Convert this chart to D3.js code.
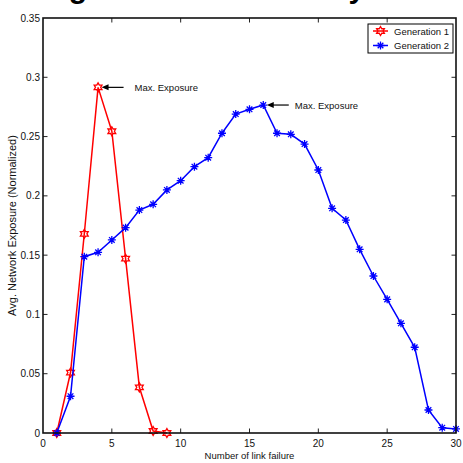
<!DOCTYPE html>
<html>
<head>
<meta charset="utf-8">
<script src="https://cdn.jsdelivr.net/npm/d3@7/dist/d3.min.js"></script>
<style>
  body { margin: 0; background: #fff; }
  svg { display: block; }
  text { font-family: 'Liberation Sans', Arial, Helvetica, sans-serif; }
</style>
</head>
<body>
<div id="chart"></div>
<script>
const W = 463
const H = 463

const gen1X = [1, 2, 3, 4, 5, 6, 7, 8, 9]
const gen1Y = [0, 0.051, 0.168, 0.2915, 0.2545, 0.147, 0.0385, 0.0017, 0]

const gen2X = [1, 2, 3, 4, 5, 6, 7, 8, 9, 10, 11, 12, 13, 14, 15, 16, 17, 18, 19, 20, 21, 22, 23, 24, 25, 26, 27, 28, 29, 30]
const gen2Y = [0, 0.031, 0.1487, 0.1524, 0.1628, 0.1732, 0.188, 0.1929, 0.205, 0.2128, 0.2246, 0.2322, 0.2528, 0.269, 0.273, 0.2766,
  0.2528, 0.2519, 0.2437, 0.2218, 0.1895, 0.1796, 0.1549, 0.1324, 0.1127, 0.0925, 0.0723, 0.0194, 0.0045, 0.0034]

const xTicks = [0, 5, 10, 15, 20, 25, 30]
const yTicks = [0, 0.05, 0.1, 0.15, 0.2, 0.25, 0.3, 0.35]
const seriesNames = ['Generation 1', 'Generation 2']
const annotations = [
  { series: 0, x: 4, y: 0.2915, label: 'Max. Exposure' },
  { series: 1, x: 16, y: 0.2766, label: 'Max. Exposure' },
]

const margin = { left: 43, right: 7, top: 18, bottom: 30 }

const x = d3.scaleLinear().domain([0, 30]).range([margin.left, W - margin.right])
const y = d3.scaleLinear().domain([0, 0.35]).range([H - margin.bottom, margin.top])

const svg = d3.select('#chart').append('svg').attr('width', W).attr('height', H)

svg.append('rect').attr('width', W).attr('height', H).attr('fill', '#ffffff')

// title sits above the picture, only its descenders show
svg
  .append('text')
  .attr('x', 24)
  .attr('y', -2.5)
  .attr('font-size', 30)
  .attr('font-weight', 'bold')
  .attr('letter-spacing', -0.6)
  .attr('fill', '#000')
  .text('Single Link Failure Analysis')

// ticks (inside, on all four sides)
const TICK = 4.5
const tickG = svg.append('g').attr('stroke', '#222').attr('stroke-width', 1)
xTicks.slice(1, -1).forEach((t) => {
  tickG.append('line').attr('x1', x(t)).attr('x2', x(t)).attr('y1', y(0)).attr('y2', y(0) - TICK)
  tickG.append('line').attr('x1', x(t)).attr('x2', x(t)).attr('y1', y(0.35)).attr('y2', y(0.35) + TICK)
})
yTicks.slice(1, -1).forEach((t) => {
  tickG.append('line').attr('x1', x(0)).attr('x2', x(0) + TICK).attr('y1', y(t)).attr('y2', y(t))
  tickG.append('line').attr('x1', x(30)).attr('x2', x(30) - TICK).attr('y1', y(t)).attr('y2', y(t))
})

// tick labels
svg
  .append('g')
  .selectAll('text')
  .data(xTicks)
  .join('text')
  .attr('x', (d) => x(d))
  .attr('y', y(0) + 14)
  .attr('text-anchor', 'middle')
  .attr('font-size', 10)
  .attr('fill', '#111')
  .text((d) => d)

svg
  .append('g')
  .selectAll('text')
  .data(yTicks)
  .join('text')
  .attr('x', x(0) - 3)
  .attr('y', (d) => y(d) + 3.5)
  .attr('text-anchor', 'end')
  .attr('font-size', 10)
  .attr('fill', '#111')
  .text((d) => d)

// axis labels
svg
  .append('text')
  .attr('x', (x(0) + x(30)) / 2)
  .attr('y', H - 4)
  .attr('text-anchor', 'middle')
  .attr('font-size', 9.5)
  .attr('fill', '#111')
  .text('Number of link failure')

svg
  .append('text')
  .attr('transform', `translate(16 ${(y(0) + y(0.35)) / 2}) rotate(-90)`)
  .attr('text-anchor', 'middle')
  .attr('font-size', 11)
  .attr('fill', '#111')
  .text('Avg. Network Exposure (Normalized)')

// markers
const hexagram = (r) => {
  const pts = []
  for (let k = 0; k < 12; k++) {
    const a = (Math.PI / 6) * k - Math.PI / 2
    const rr = k % 2 === 0 ? r : r / Math.sqrt(3)
    pts.push([rr * Math.cos(a), rr * Math.sin(a)])
  }
  return 'M' + pts.map((p) => p.join(',')).join('L') + 'Z'
}

const asterisk = (r) => {
  const d = r * Math.SQRT1_2
  return `M${-r},0L${r},0M0,${-r}L0,${r}M${-d},${-d}L${d},${d}M${-d},${d}L${d},${-d}`
}

const series = [
  { xs: gen1X, ys: gen1Y, color: '#ff0000', marker: hexagram(4.5) },
  { xs: gen2X, ys: gen2Y, color: '#0000ff', marker: asterisk(4) },
]

const line = d3
  .line()
  .x((d) => x(d[0]))
  .y((d) => y(d[1]))

series.forEach((s) => {
  const pts = s.xs.map((v, i) => [v, s.ys[i]])
  const g = svg.append('g')
  g.append('path')
    .attr('d', line(pts))
    .attr('fill', 'none')
    .attr('stroke', s.color)
    .attr('stroke-width', 1.5)
  g.selectAll('path.m')
    .data(pts)
    .join('path')
    .attr('class', 'm')
    .attr('transform', (d) => `translate(${x(d[0])} ${y(d[1])})`)
    .attr('d', s.marker)
    .attr('fill', 'none')
    .attr('stroke', s.color)
    .attr('stroke-width', 1.3)
})

// axes box
svg
  .append('rect')
  .attr('x', x(0))
  .attr('y', y(0.35))
  .attr('width', x(30) - x(0))
  .attr('height', y(0) - y(0.35))
  .attr('fill', 'none')
  .attr('stroke', '#111')
  .attr('stroke-width', 1.6)

// annotations: left arrow then text, starting just right of the peak
annotations.forEach((a) => {
  const px = x(a.x) + 3.5
  const py = y(a.y)
  const g = svg.append('g')
  g.append('line')
    .attr('x1', px + 5)
    .attr('x2', px + 22)
    .attr('y1', py)
    .attr('y2', py)
    .attr('stroke', '#000')
    .attr('stroke-width', 1.2)
  g.append('path')
    .attr('d', `M${px},${py}L${px + 7},${py - 3}L${px + 7},${py + 3}Z`)
    .attr('fill', '#000')
  g.append('text')
    .attr('x', px + (a.series === 0 ? 33 : 28))
    .attr('y', py + 3.5)
    .attr('font-size', 9.5)
    .attr('fill', '#111')
    .text(a.label)
})

// legend
const legX = 368
const legY = 24
const legend = svg.append('g')
legend
  .append('rect')
  .attr('x', legX)
  .attr('y', legY)
  .attr('width', 85)
  .attr('height', 29)
  .attr('fill', '#fff')
  .attr('stroke', '#000')
  .attr('stroke-width', 1)
series.forEach((s, i) => {
  const ry = legY + 7 + i * 14.5
  legend
    .append('line')
    .attr('x1', legX + 5)
    .attr('x2', legX + 20)
    .attr('y1', ry)
    .attr('y2', ry)
    .attr('stroke', s.color)
    .attr('stroke-width', 1.5)
  legend
    .append('path')
    .attr('transform', `translate(${legX + 12.5} ${ry})`)
    .attr('d', s.marker)
    .attr('fill', 'none')
    .attr('stroke', s.color)
    .attr('stroke-width', 1.3)
  legend
    .append('text')
    .attr('x', legX + 26)
    .attr('y', ry + 3.5)
    .attr('font-size', 9.5)
    .attr('fill', '#111')
    .text(seriesNames[i])
})
</script>
</body>
</html>
